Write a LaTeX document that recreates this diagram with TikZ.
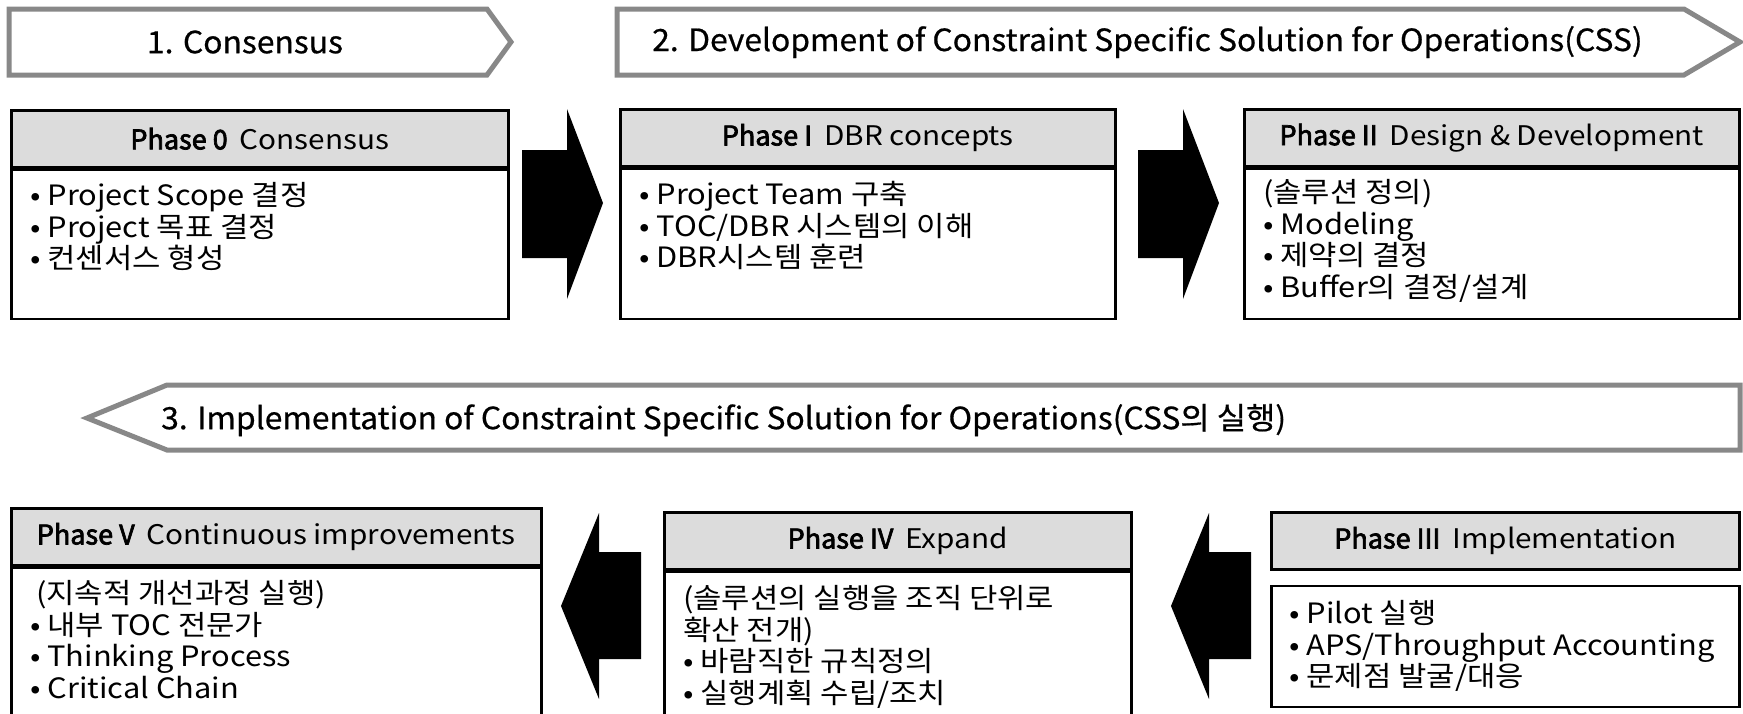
\documentclass[tikz,border=0pt]{standalone}
\usepackage{fontspec}
\setmainfont[FakeStretch=1.1]{Noto Sans CJK KR}
\newfontfamily\bannerfont[FakeStretch=1.04, FakeBold=0.6]{Noto Sans CJK KR}
\newfontfamily\phasefont[FakeStretch=1.0, FakeBold=2.6]{Noto Sans CJK KR}
\newcommand\phasename[1]{{\phasefont #1}}
\usetikzlibrary{positioning}

\definecolor{bannergray}{RGB}{136,136,136}
\definecolor{headgray}{RGB}{220,220,220}

\tikzset{
  banner/.style={draw=bannergray, line width=5pt, fill=white, line join=miter},
  bannertext/.style={inner sep=0pt, font=\bannerfont\fontsize{30.6}{30.6}\selectfont},
  phasehead/.style={draw, line width=2.5pt, fill=headgray, minimum height=57pt,
    inner sep=0pt, font=\fontsize{27}{27}\selectfont},
  phasebody/.style={draw, line width=2.5pt, fill=white, inner sep=0pt},
  items/.style={align=left, inner sep=0pt, font=\fontsize{28}{31.5}\selectfont},
  blockarrow/.style={fill=black}
}

\begin{document}
\begin{tikzpicture}[x=1pt, y=-1pt]
\useasboundingbox (0,0) rectangle (1743,713);

% stage banners
\draw[banner] (9,9) -- (487,9) -- (511,42) -- (487,75) -- (9,75) -- cycle;
\node[bannertext] (st1) at (245,42) {1. Consensus};
\draw[banner] (617,9) -- (1684,9) -- (1740,42) -- (1684,75) -- (617,75) -- cycle;
\node[bannertext, anchor=west] (st2) at (652,42)
  {2. Development of Constraint Specific Solution for Operations(CSS)};
\draw[banner] (167,385) -- (1740,385) -- (1740,450) -- (167,450) -- (87,418) -- cycle;
\node[bannertext, anchor=west] (st3) at (161,420)
  {3. Implementation of Constraint Specific Solution for Operations(CSS의 실행)};

% upper row
\node[phasehead, minimum width=497pt, anchor=north west] (p0h) at (10,109)
  {\phasename{Phase 0}\hspace{12pt}Consensus};
\node[phasebody, minimum width=497pt, minimum height=149pt, below=0pt of p0h] (p0b) {};
\node[items, below right=14pt and 20pt of p0b.north west] (p0t)
  {• Project Scope 결정\\ • Project 목표 결정\\ • 컨센서스 형성};

\node[phasehead, minimum width=495pt, anchor=north west] (p1h) at (619,108)
  {\phasename{Phase I}\hspace{12pt}DBR concepts};
\node[phasebody, minimum width=495pt, minimum height=150pt, below=0pt of p1h] (p1b) {};
\node[items, below right=14pt and 20pt of p1b.north west] (p1t)
  {• Project Team 구축\\ • TOC/DBR 시스템의 이해\\ • DBR시스템 훈련};

\node[phasehead, minimum width=495pt, anchor=north west] (p2h) at (1243,108)
  {\phasename{Phase\hspace{6pt}II}\hspace{12pt}Design \& Development};
\node[phasebody, minimum width=495pt, minimum height=150pt, below=0pt of p2h] (p2b) {};
\node[items, below right=12pt and 20pt of p2b.north west] (p2t)
  {(솔루션 정의)\\ • Modeling\\ • 제약의 결정\\ • Buffer의 결정/설계};

% lower row
\node[phasehead, minimum width=530pt, anchor=north west] (p5h) at (10,507)
  {\phasename{Phase V}\hspace{12pt}Continuous improvements};
\node[phasebody, minimum width=530pt, minimum height=149pt, below=0pt of p5h] (p5b) {};
\node[items, below right=14pt and 20pt of p5b.north west] (p5t)
  {\hspace{6pt}(지속적 개선과정 실행)\\ • 내부 TOC 전문가\\ • Thinking Process\\ • Critical Chain};

\node[phasehead, minimum width=467pt, anchor=north west] (p4h) at (663,511)
  {\phasename{Phase IV}\hspace{12pt}Expand};
\node[phasebody, minimum width=467pt, minimum height=145pt, below=0pt of p4h] (p4b) {};
\node[items, below right=15pt and 20pt of p4b.north west] (p4t)
  {(솔루션의 실행을 조직 단위로\\ 확산 전개)\\ • 바람직한 규칙정의\\ • 실행계획 수립/조치};

\node[phasehead, minimum width=468pt, anchor=north west] (p3h) at (1270,511)
  {\phasename{Phase III}\hspace{12pt}Implementation};
\node[phasebody, minimum width=468pt, minimum height=121pt, below=14pt of p3h] (p3b) {};
\node[items, below right=16pt and 19pt of p3b.north west] (p3t)
  {• Pilot 실행\\ • APS/Throughput Accounting\\ • 문제점 발굴/대응};

% block arrows between phases
\coordinate (a01) at (603,203);
\coordinate (a12) at (1219,203);
\coordinate (a34) at (1171,606);
\coordinate (a45) at (561,606);
\foreach \t in {a01,a12}
  \fill[blockarrow] (\t) -- ++(-36,-94) -- ++(0,41) -- ++(-45,0) -- ++(0,108)
    -- ++(45,0) -- ++(0,41) -- cycle;
\foreach \t in {a34,a45}
  \fill[blockarrow] (\t) -- ++(38,-93) -- ++(0,39) -- ++(42,0) -- ++(0,107)
    -- ++(-42,0) -- ++(0,40) -- cycle;
\end{tikzpicture}
\end{document}
